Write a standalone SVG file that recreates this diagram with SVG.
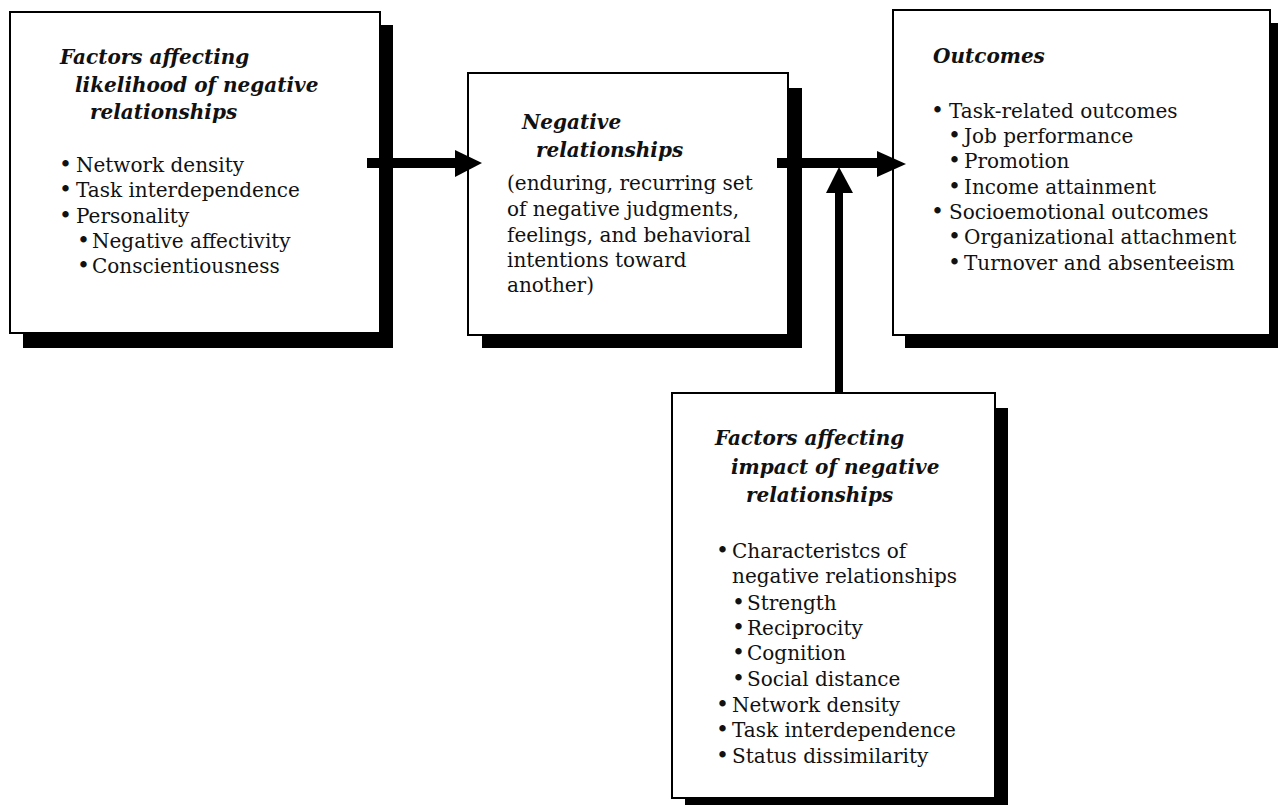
<svg xmlns="http://www.w3.org/2000/svg" width="1278" height="806" viewBox="0 0 1278 806">
<style>
.shadow{fill:#000}
.box{fill:#fff;stroke:#000;stroke-width:2}
.t{font-family:"DejaVu Serif","Liberation Serif",serif;font-weight:bold;font-style:italic;font-size:20px;fill:#111}
.b{font-family:"DejaVu Serif","Liberation Serif",serif;font-size:20px;fill:#111}
.d{font-size:22px}
.c{fill:#000}
</style>
<rect width="1278" height="806" fill="#fff"/>
<g id="node-likelihood">
<rect class="shadow" x="23" y="25" width="370" height="323"/>
<rect class="box" x="10" y="12" width="370" height="321"/>
<text class="t" x="60" y="64">Factors affecting</text>
<text class="t" x="75" y="92">likelihood of negative</text>
<text class="t" x="90" y="119">relationships</text>
<text class="b" y="172"><tspan class="d" x="59">•</tspan><tspan x="76">Network density</tspan></text>
<text class="b" y="197"><tspan class="d" x="59">•</tspan><tspan x="76">Task interdependence</tspan></text>
<text class="b" y="223"><tspan class="d" x="59">•</tspan><tspan x="76">Personality</tspan></text>
<text class="b" y="248"><tspan class="d" x="77">•</tspan><tspan x="92">Negative affectivity</tspan></text>
<text class="b" y="273"><tspan class="d" x="77">•</tspan><tspan x="92">Conscientiousness</tspan></text>
</g>
<g id="node-negative">
<rect class="shadow" x="482" y="88" width="320" height="260"/>
<rect class="box" x="468" y="73" width="320" height="262"/>
<text class="t" x="522" y="129">Negative</text>
<text class="t" x="536" y="157">relationships</text>
<text class="b" x="507" y="190">(enduring, recurring set</text>
<text class="b" x="507" y="216">of negative judgments,</text>
<text class="b" x="507" y="242">feelings, and behavioral</text>
<text class="b" x="507" y="267">intentions toward</text>
<text class="b" x="507" y="292">another)</text>
</g>
<g id="node-outcomes">
<rect class="shadow" x="905" y="23" width="373" height="325"/>
<rect class="box" x="893" y="10" width="377" height="325"/>
<text class="t" x="933" y="63">Outcomes</text>
<text class="b" y="118"><tspan class="d" x="931">•</tspan><tspan x="949">Task-related outcomes</tspan></text>
<text class="b" y="143"><tspan class="d" x="948">•</tspan><tspan x="964">Job performance</tspan></text>
<text class="b" y="168"><tspan class="d" x="948">•</tspan><tspan x="964">Promotion</tspan></text>
<text class="b" y="194"><tspan class="d" x="948">•</tspan><tspan x="964">Income attainment</tspan></text>
<text class="b" y="219"><tspan class="d" x="931">•</tspan><tspan x="949">Socioemotional outcomes</tspan></text>
<text class="b" y="244"><tspan class="d" x="948">•</tspan><tspan x="964">Organizational attachment</tspan></text>
<text class="b" y="270"><tspan class="d" x="948">•</tspan><tspan x="964">Turnover and absenteeism</tspan></text>
</g>
<g id="node-impact">
<rect class="shadow" x="685" y="408" width="323" height="397"/>
<rect class="box" x="672" y="393" width="323" height="405"/>
<text class="t" x="715" y="445">Factors affecting</text>
<text class="t" x="731" y="474">impact of negative</text>
<text class="t" x="746" y="502">relationships</text>
<text class="b" y="558"><tspan class="d" x="716">•</tspan><tspan x="732">Characteristcs of</tspan></text>
<text class="b" x="732" y="583">negative relationships</text>
<text class="b" y="610"><tspan class="d" x="732">•</tspan><tspan x="747">Strength</tspan></text>
<text class="b" y="635"><tspan class="d" x="732">•</tspan><tspan x="747">Reciprocity</tspan></text>
<text class="b" y="660"><tspan class="d" x="732">•</tspan><tspan x="747">Cognition</tspan></text>
<text class="b" y="686"><tspan class="d" x="732">•</tspan><tspan x="747">Social distance</tspan></text>
<text class="b" y="712"><tspan class="d" x="716">•</tspan><tspan x="732">Network density</tspan></text>
<text class="b" y="737"><tspan class="d" x="716">•</tspan><tspan x="732">Task interdependence</tspan></text>
<text class="b" y="763"><tspan class="d" x="716">•</tspan><tspan x="732">Status dissimilarity</tspan></text>
</g>
<g id="connectors">
<rect class="c" x="367" y="158" width="92" height="10"/>
<polygon class="c" points="455,150 482,163 455,177"/>
<rect class="c" x="777" y="158" width="102" height="10"/>
<polygon class="c" points="877,151 906,164 877,177"/>
<rect class="c" x="835" y="190" width="8" height="204"/>
<polygon class="c" points="826,193 839,167 853,193"/>
</g>
</svg>
